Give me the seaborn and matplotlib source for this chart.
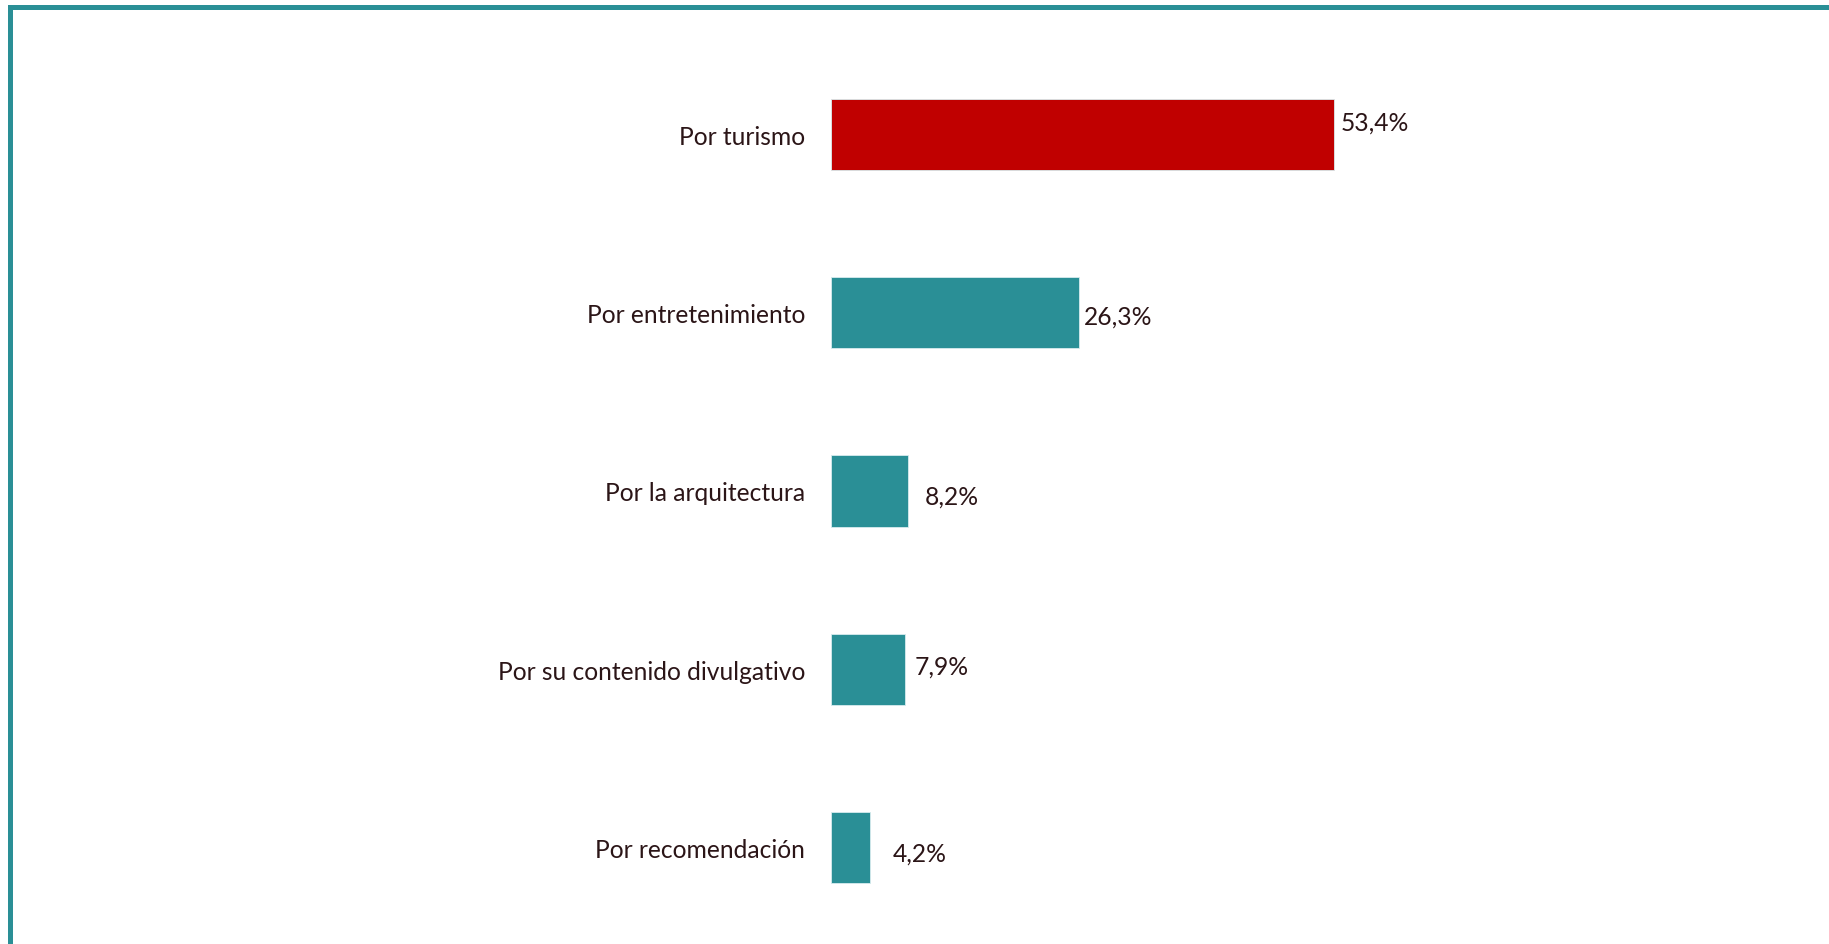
import matplotlib
matplotlib.use("Agg")
import matplotlib.pyplot as plt
from matplotlib.patches import Rectangle
import seaborn as sns
import pandas as pd

# Reasons for visiting (percent of respondents)
categories = [
    "Por turismo",
    "Por entretenimiento",
    "Por la arquitectura",
    "Por su contenido divulgativo",
    "Por recomendación",
]
values = [53.4, 26.3, 8.2, 7.9, 4.2]
value_labels = ["53,4%", "26,3%", "8,2%", "7,9%", "4,2%"]

RED = "#C00000"
TEAL = "#2A8F96"
TEXT = "#2B1517"
colors = [RED, TEAL, TEAL, TEAL, TEAL]

# label nudges (px): horizontal gap from bar end, vertical shift from bar centre
label_dx = [7, 5, 17, 9, 22]
label_dy = [-12, 4, 5, -3, 6]

sns.set_theme(style="white")
plt.rcParams["font.family"] = ["Lato", "DejaVu Sans"]

DPI = 100
W, H = 1829, 945
FS = 17.7
fig = plt.figure(figsize=(W / DPI, H / DPI), dpi=DPI)
ax = fig.add_axes([0.4542, 0.0078, 0.5151, 0.9434])

df = pd.DataFrame({"cat": categories, "val": values})
sns.barplot(
    data=df, x="val", y="cat", hue="cat", palette=colors, order=categories,
    legend=False, width=0.4, orient="h", ax=ax, saturation=1,
    edgecolor="#d8ecee", linewidth=0.6,
)

ax.set_xlim(0, 100)
ax.set_ylim(len(categories) - 0.5, -0.5)
ax.set_xlabel("")
ax.set_ylabel("")
ax.set_xticks([])
for s in ax.spines.values():
    s.set_visible(False)
ax.tick_params(axis="y", length=0, pad=18.5, labelsize=FS, labelcolor=TEXT)

px = 72 / DPI
for i, (v, lab) in enumerate(zip(values, value_labels)):
    ax.annotate(lab, xy=(v, i), xytext=(label_dx[i] * px, -label_dy[i] * px),
                textcoords="offset points", ha="left", va="center",
                fontsize=FS, color=TEXT)

# teal frame around the chart area (runs off the right and bottom)
fig.patches.append(Rectangle((9.5 / W, -0.1), 1.2, 1.1 - 7.5 / H,
                             transform=fig.transFigure, fill=False,
                             edgecolor=TEAL, linewidth=5 * px, zorder=10))

fig.savefig("out.png", dpi=DPI, facecolor="white")
